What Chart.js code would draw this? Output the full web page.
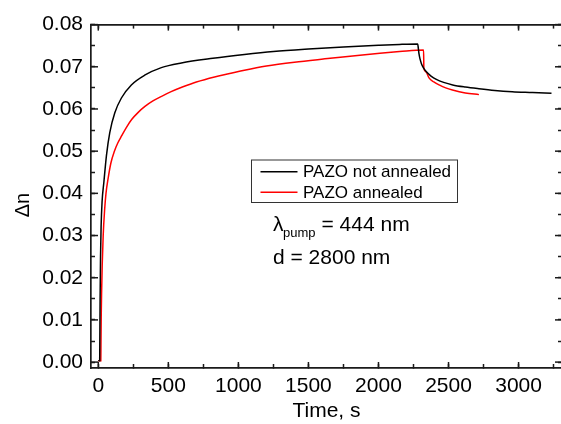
<!DOCTYPE html>
<html lang="en">
<head>
<meta charset="UTF-8" />
<title>PAZO photoinduced birefringence</title>
<script src="https://cdn.jsdelivr.net/npm/chart.js@4.4.0/dist/chart.umd.min.js"></script>
<style>
  html, body { margin: 0; padding: 0; background: #fff; overflow: hidden; }
</style>
</head>
<body>
<canvas id="chartDn" width="564" height="424"></canvas>
<script>
// PAZO film, not annealed: time (s) and Δn
var timeNotAnnealed = [0, 10, 11, 13, 16, 20, 27, 40, 58, 82, 118, 165, 236, 331, 450, 593, 818, 1043,
  1250, 1500, 1750, 2000, 2150, 2280, 2284, 2289, 2297, 2306, 2320, 2342, 2375, 2413, 2465, 2530,
  2620, 2717, 2830, 2955, 3100, 3235];
var dnNotAnnealed = [0.0003, 0.0003, 0.005, 0.015, 0.025, 0.032, 0.038, 0.0427, 0.0489, 0.0544, 0.0591,
  0.0626, 0.0657, 0.0680, 0.0698, 0.0709, 0.0720, 0.0729, 0.0736, 0.0742, 0.0747, 0.0751, 0.0753,
  0.0754, 0.0745, 0.0731, 0.0718, 0.0708, 0.0698, 0.0688, 0.0678, 0.0670, 0.0663, 0.0657, 0.0652,
  0.0648, 0.0644, 0.0641, 0.0639, 0.0637];

// PAZO film, annealed: time (s) and Δn
var timeAnnealed = [0, 18, 19, 21, 24, 28, 35, 45, 55, 70, 90, 115, 140, 166, 200, 238, 285, 333, 390,
  452, 520, 600, 700, 830, 938, 1043, 1200, 1400, 1655, 1850, 2010, 2150, 2322, 2324, 2338, 2362,
  2395, 2433, 2480, 2528, 2620, 2717];
var dnAnnealed = [0.0003, 0.0003, 0.004, 0.011, 0.017, 0.023, 0.030, 0.036, 0.040, 0.0435, 0.0472,
  0.0500, 0.0520, 0.0536, 0.0556, 0.0575, 0.0592, 0.0606, 0.0619, 0.0630, 0.0641, 0.0652, 0.0664,
  0.0676, 0.0684, 0.0692, 0.0702, 0.0711, 0.0720, 0.0727, 0.0732, 0.0736, 0.0740, 0.0696, 0.0688,
  0.0673, 0.0664, 0.0657, 0.0650, 0.0645, 0.0638, 0.0634];

var seriesNames = ['PAZO not annealed', 'PAZO annealed'];

// axis ticks
var xTicks = [0, 500, 1000, 1500, 2000, 2500, 3000];
var xMinorTicks = [250, 750, 1250, 1750, 2250, 2750, 3250];
var yTicks = [0, 0.01, 0.02, 0.03, 0.04, 0.05, 0.06, 0.07, 0.08];
var yMinorTicks = [0.005, 0.015, 0.025, 0.035, 0.045, 0.055, 0.065, 0.075];

var fontFamily = '"Liberation Sans", Arial, sans-serif';
var axisColor = '#1a1a1a';

function toPoints(xs, ys) {
  return xs.map(function (x, i) { return { x: x, y: ys[i] }; });
}

function allTicks(major, minor) {
  return major.concat(minor).sort(function (p, q) { return p - q; })
    .map(function (v) { return { value: v }; });
}

function drawSegment(ctx, x0, y0, x1, y1) {
  ctx.beginPath();
  ctx.moveTo(x0, y0);
  ctx.lineTo(x1, y1);
  ctx.stroke();
}

// short inward tick marks on every side, longer ones at the labelled values
function boxAxis(axisId, position, lo, hi, major, minor, labelled) {
  var horizontal = axisId.charAt(0) === 'x';
  return {
    type: 'linear',
    position: position,
    min: lo,
    max: hi,
    grid: {
      display: true,
      drawOnChartArea: false,
      drawTicks: true,
      tickLength: -4,
      tickWidth: 1.5,
      tickColor: axisColor
    },
    border: { display: true, color: axisColor, width: 1.7 },
    afterBuildTicks: function (s) { s.ticks = allTicks(major, minor); },
    afterFit: function (s) {
      if (horizontal) { s.height = position === 'bottom' ? 56 : 21; }
      else { s.width = position === 'left' ? 91 : 2; }
    },
    ticks: {
      display: labelled,
      color: '#000',
      padding: horizontal ? 10 : 12,
      maxRotation: 0,
      autoSkip: false,
      font: { family: fontFamily, size: 21 },
      callback: function (v) {
        if (major.indexOf(v) < 0) { return ''; }
        return horizontal ? String(v) : v.toFixed(2);
      }
    }
  };
}

var xAxis = boxAxis('x', 'bottom', -52, 3310, xTicks, xMinorTicks, true);
xAxis.title = {
  display: true,
  text: 'Time, s',
  color: '#000',
  font: { family: fontFamily, size: 21 },
  padding: { top: 0, bottom: 0 }
};

// y title, legend box, the pump note and the longer major ticks
var notes = {
  id: 'notes',
  afterDraw: function (chart) {
    var ctx = chart.ctx;
    var a = chart.chartArea;
    var sx = chart.scales.x;
    var sy = chart.scales.y;

    ctx.save();
    ctx.strokeStyle = axisColor;
    ctx.lineWidth = 1.5;
    xTicks.forEach(function (v) {
      var px = sx.getPixelForValue(v);
      drawSegment(ctx, px, a.bottom, px, a.bottom - 6);
      drawSegment(ctx, px, a.top, px, a.top + 6);
    });
    yTicks.forEach(function (v) {
      var py = sy.getPixelForValue(v);
      drawSegment(ctx, a.left, py, a.left + 7, py);
      drawSegment(ctx, a.right, py, a.right - 7, py);
    });
    ctx.restore();

    ctx.save();
    ctx.fillStyle = '#000';
    ctx.font = '20px ' + fontFamily;
    ctx.textAlign = 'center';
    ctx.textBaseline = 'middle';
    ctx.translate(23, 205);
    ctx.rotate(-Math.PI / 2);
    ctx.fillText('\u0394n', 0, 0);
    ctx.restore();

    ctx.save();
    ctx.strokeStyle = '#333';
    ctx.lineWidth = 1;
    ctx.strokeRect(251.5, 160, 206, 42.5);
    ctx.font = '17px ' + fontFamily;
    ctx.textAlign = 'left';
    ctx.textBaseline = 'middle';
    ctx.fillStyle = '#000';
    var rows = [171.7, 192.3];
    chart.data.datasets.forEach(function (ds, i) {
      ctx.strokeStyle = ds.borderColor;
      ctx.lineWidth = 1.5;
      drawSegment(ctx, 260.5, rows[i], 297.5, rows[i]);
      ctx.fillText(ds.label, 303, rows[i] + 1);
    });

    ctx.textBaseline = 'alphabetic';
    ctx.font = '21px ' + fontFamily;
    ctx.fillText('\u03bb', 273, 231);
    ctx.font = '13px ' + fontFamily;
    ctx.fillText('pump', 283, 237);
    ctx.font = '21px ' + fontFamily;
    ctx.fillText('= 444 nm', 321.5, 231);
    ctx.fillText('d = 2800 nm', 273, 263.5);
    ctx.restore();
  }
};

var ctxDn = document.getElementById('chartDn').getContext('2d');
var chartDn = new Chart(ctxDn, {
  type: 'line',
  data: {
    datasets: [{
      label: seriesNames[0],
      data: toPoints(timeNotAnnealed, dnNotAnnealed),
      borderColor: '#000000',
      borderWidth: 1.5,
      pointRadius: 0,
      cubicInterpolationMode: 'monotone'
    }, {
      label: seriesNames[1],
      data: toPoints(timeAnnealed, dnAnnealed),
      borderColor: '#ff0000',
      borderWidth: 1.5,
      pointRadius: 0,
      cubicInterpolationMode: 'monotone'
    }]
  },
  options: {
    responsive: false,
    animation: false,
    devicePixelRatio: 1,
    layout: { padding: 0 },
    plugins: {
      legend: { display: false },
      tooltip: { enabled: false }
    },
    scales: {
      x: xAxis,
      xTop: boxAxis('x', 'top', -52, 3310, xTicks, xMinorTicks, false),
      y: boxAxis('y', 'left', -0.0014, 0.08, yTicks, yMinorTicks, true),
      yRight: boxAxis('y', 'right', -0.0014, 0.08, yTicks, yMinorTicks, false)
    }
  },
  plugins: [notes]
});
</script>
</body>
</html>
